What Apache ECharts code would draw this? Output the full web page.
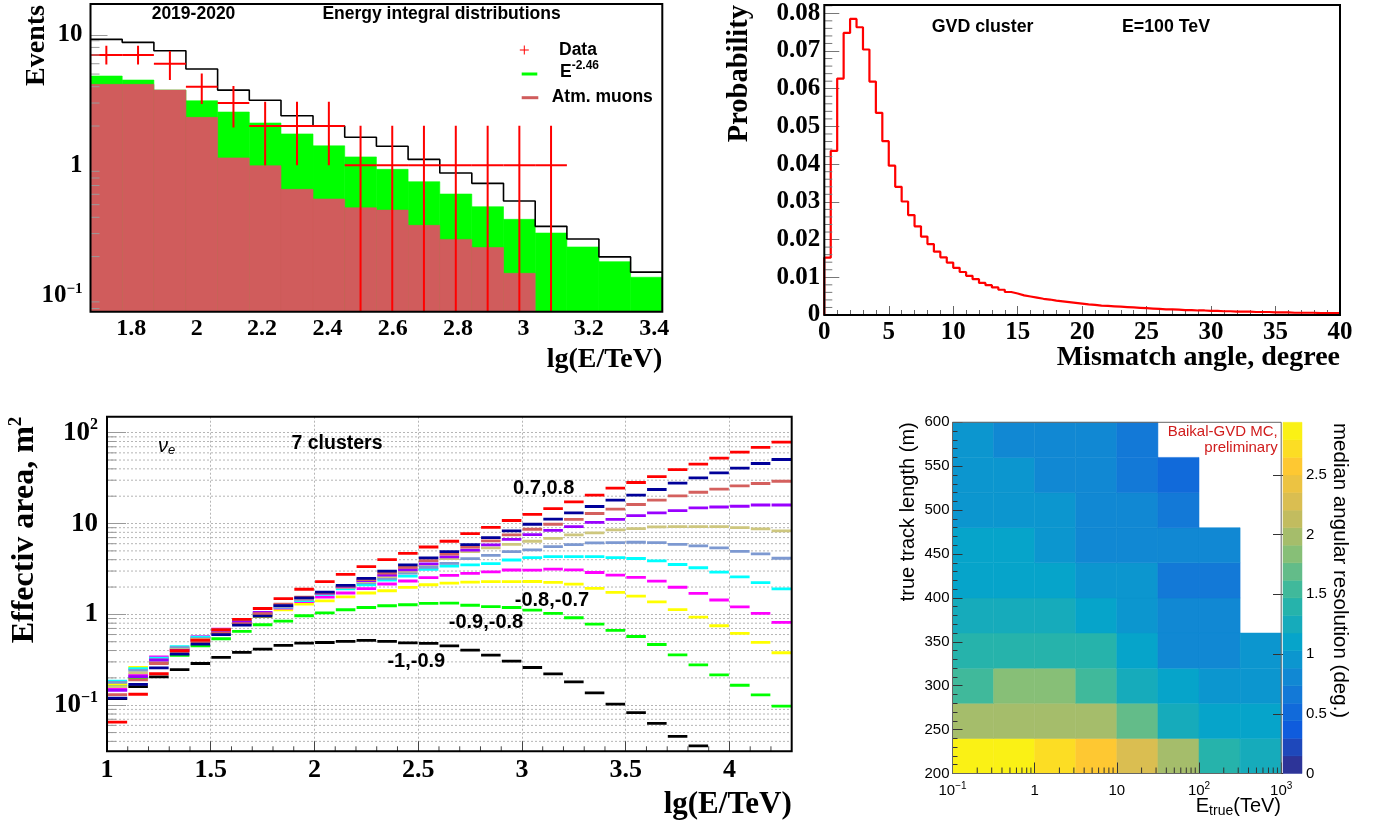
<!DOCTYPE html>
<html><head><meta charset="utf-8">
<script src="https://cdn.jsdelivr.net/npm/echarts@6/dist/echarts.min.js"></script>
<style>html,body{margin:0;padding:0;background:#fff}#c{width:1380px;height:827px}</style>
</head><body><div id="c"></div>
<script>
// ================= DATA =================
// Panel 1: energy integral distributions (log y)
const p1Edges  = [1.675,1.772,1.869,1.967,2.064,2.161,2.258,2.356,2.453,2.550,2.647,2.744,2.842,2.939,3.036,3.133,3.231,3.328,3.425];
const p1Total  = [9.22,8.75,7.54,5.46,3.77,3.15,2.40,2.00,1.64,1.40,1.11,0.873,0.728,0.533,0.341,0.273,0.199,0.152];
const p1Signal = [4.83,4.50,3.77,3.12,2.56,2.11,1.74,1.41,1.16,0.932,0.749,0.603,0.482,0.386,0.303,0.237,0.183,0.139]; // E^-2.46 stacked on muons
const p1Muons  = [4.17,4.17,3.77,2.33,1.14,0.993,0.655,0.552,0.473,0.454,0.347,0.271,0.235,0.149,null,null,null,null];
const p1Data   = [7,7,6,4,3,2,2,2,1,1,1,1,1,1,1];
const p1DataLo = [5.93,5.93,4.5,2.95,1.95,1,1,1,0,0,0,0,0,0,0];
const p1DataHi = [8.24,8.24,7.5,5.06,4.05,3.07,3.07,3.07,2.01,2.01,2.01,2.01,2.01,2.01,2.01];

// Panel 2: mismatch angle distribution, bins of 0.5 degree from 0 to 40
const p2BinWidth = 0.5;
const p2Prob = [0.0152,0.0435,0.0627,0.0748,0.0785,0.0763,0.0704,0.0619,0.0536,0.0461,
 0.0396,0.0340,0.0301,0.0265,0.0235,0.0208,0.0188,0.0168,0.0153,0.0139,
 0.0125,0.0114,0.0104,0.0095,0.0085,0.0079,0.0073,0.0067,0.0061,0.0057,
 0.0052,0.0049,0.0046,0.0043,0.0041,0.0038,0.0036,0.0034,0.0032,0.0030,
 0.0028,0.0027,0.0025,0.0024,0.0023,0.0022,0.0021,0.0020,0.0019,0.0018,
 0.0017,0.0016,0.0015,0.0015,0.0014,0.0013,0.0013,0.0012,0.0012,0.0011,
 0.0011,0.0010,0.0010,0.0009,0.0009,0.0009,0.0008,0.0008,0.0008,0.0007,
 0.0007,0.0007,0.0006,0.0006,0.0006,0.0006,0.0005,0.0005,0.0005,0.0005];

// Panel 3: effective area, bins of 0.1 in lg(E/TeV) from 1.0 to 4.3
const p3Start = 1.0, p3BinWidth = 0.1;
const p3Black   = [0.118,0.16,0.205,0.247,0.288,0.336,0.381,0.414,0.455,0.483,0.49,0.504,0.517,0.504,0.486,0.479,0.451,0.404,0.356,0.306,0.26,0.221,0.181,0.137,0.103,0.083,0.063,0.0455,0.0356,null,null,null,null];
const p3Green   = [0.165,0.20,0.295,0.353,0.451,0.539,0.649,0.769,0.844,0.966,1.04,1.125,1.19,1.245,1.277,1.32,1.33,1.26,1.22,1.19,1.115,1.025,0.918,0.782,0.666,0.571,0.466,0.358,0.278,0.216,0.166,0.13,0.0975];
const p3Yellow  = [0.172,0.26,0.335,0.425,0.55,0.665,0.78,0.945,1.12,1.30,1.41,1.56,1.72,1.82,1.98,2.12,2.21,2.27,2.29,2.29,2.30,2.25,2.15,1.93,1.75,1.59,1.37,1.13,0.934,0.75,0.617,0.491,0.378];
const p3Magenta = [0.150,0.215,0.341,0.415,0.567,0.689,0.84,1.04,1.17,1.38,1.55,1.72,1.92,2.16,2.33,2.54,2.69,2.83,2.93,3.08,3.07,3.15,3.09,2.89,2.70,2.55,2.32,1.99,1.70,1.44,1.21,1.025,0.815];
const p3Cyan    = [0.184,0.252,0.33,0.44,0.56,0.675,0.83,1.01,1.20,1.42,1.66,1.91,2.12,2.39,2.64,3.13,3.41,3.50,3.62,3.97,4.22,4.33,4.33,4.33,4.22,4.12,3.88,3.54,3.26,2.92,2.59,2.24,1.91];
const p3Steel   = [0.178,0.242,0.32,0.43,0.54,0.66,0.81,0.99,1.22,1.45,1.69,1.97,2.23,2.5,2.85,3.30,3.64,4.1,4.47,4.90,5.12,5.57,5.87,6.12,6.17,6.22,6.17,5.91,5.67,5.39,4.95,4.63,4.15];
const p3Tan     = [0.160,0.227,0.305,0.41,0.53,0.65,0.80,1.0,1.24,1.48,1.71,2.0,2.30,2.6,3.0,3.56,4.1,4.9,5.4,5.9,6.38,6.88,7.49,7.88,8.50,8.79,9.17,9.25,9.25,9.25,9.02,8.72,8.29];
const p3Violet  = [0.146,0.206,0.313,0.401,0.515,0.64,0.82,1.05,1.27,1.52,1.72,2.02,2.36,2.7,3.1,3.6,4.3,5.1,5.81,6.71,7.55,8.43,9.25,10.3,11.1,12.2,13.1,13.9,14.9,15.2,15.5,16.0,16.0];
const p3IndRed  = [0.131,0.19,0.288,0.387,0.50,0.625,0.79,1.02,1.30,1.55,1.74,2.05,2.42,2.85,3.3,3.90,4.62,5.52,6.43,7.49,8.65,9.82,11.1,12.9,14.4,16.2,18.1,20.2,22.1,23.9,26.0,27.6,29.2];
const p3Navy    = [0.12,0.17,0.258,0.365,0.47,0.60,0.76,0.955,1.25,1.52,1.76,2.09,2.49,3.0,3.5,4.18,4.90,5.86,7.0,8.29,9.82,11.2,13.1,15.4,18.1,20.5,23.7,27.8,31.8,36.1,40.7,45.8,50.7];
const p3Red     = [0.065,0.132,0.222,0.40,0.52,0.68,0.88,1.16,1.49,1.89,2.29,2.76,3.35,4.0,4.7,5.52,6.38,7.74,9.09,10.8,12.6,14.6,17.3,20.5,24.5,28.3,32.9,39.3,45.0,52.4,61.1,68.8,78.7];
const p3Labels  = ['0.7,0.8','-0.8,-0.7','-0.9,-0.8','-1,-0.9'];

// Panel 4: median angular resolution (deg.)
const hmXEdges = [0.1,0.3162,1,3.162,10,31.62,100,316.2,1000];   // E_true (TeV)
const hmYEdges = [200,240,280,320,360,400,440,480,520,560,600];  // track length (m)
const hmValues = [ // rows from 200 m upward
  [2.90,2.88,2.72,2.60,2.30,1.95,1.45,1.32],
  [2.00,2.00,2.00,2.00,1.70,1.30,1.12,1.12],
  [1.60,1.78,1.78,1.60,1.30,1.12,1.00,1.00],
  [1.42,1.42,1.42,1.42,1.10,0.78,0.78,1.00],
  [1.30,1.30,1.30,1.05,1.00,0.85,0.85,null],
  [1.07,1.07,1.07,1.00,0.92,0.72,0.72,null],
  [1.05,1.05,0.95,0.85,0.78,0.78,0.85,null],
  [0.98,0.98,0.97,0.85,0.75,0.60,null,null],
  [0.98,0.98,0.85,0.75,0.60,0.58,null,null],
  [0.98,0.85,0.85,0.75,0.60,null,null,null]
];
const hmMax = 2.94, hmLevels = 20;

// ================= STYLE / LAYOUT =================
const SERIF = 'Liberation Serif', SANS = 'Liberation Sans';
const G = [
  {left:90.5, top:4,     width:571.8, height:307.7},
  {left:824.3, top:5,    width:515.7, height:310},
  {left:107,  top:416.7, width:684.7, height:334.6},
  {left:952.5, top:422.3, width:328.7, height:351.2},
  {left:1283, top:422.3, width:19,    height:351.2}
];
const P1Y = [0.0757, 17.2], P1X = [1.675, 3.425];
const P2Y = [0, 0.0822], P2X = [0, 40];
const P3Y = [0.0311, 150], P3X = [1, 4.3];

function logMinors(lo, hi) {
  const out = [];
  for (let e = -3; e <= 4; e++) for (let m = 2; m <= 9; m++) {
    const v = m * Math.pow(10, e);
    if (v > lo && v < hi) out.push(+v.toPrecision(3));
  }
  return out;
}
function logLabelFmt(v) {
  const e = Math.round(Math.log10(v));
  if (e === 0) return '{b|1}';
  if (e === 1) return '{b|10}';
  return '{b|10}{s|' + (e < 0 ? '\u2212' : '') + Math.abs(e) + '}';
}
function richLog(fam, w, big, small) {
  return {
    b: {fontFamily: fam, fontWeight: w, fontSize: big, color: '#000', lineHeight: big + 4},
    s: {fontFamily: fam, fontWeight: w, fontSize: small, color: '#000', lineHeight: small, verticalAlign: 'top'}
  };
}

// kBird palette
const birdStops = [0,0.125,0.25,0.375,0.5,0.625,0.75,0.875,1];
const birdR = [0.2082,0.0592,0.0780,0.0232,0.1802,0.5301,0.8186,0.9956,0.9764];
const birdG = [0.1664,0.3599,0.5041,0.6419,0.7178,0.7492,0.7328,0.7862,0.9832];
const birdB = [0.5293,0.8684,0.8385,0.7914,0.6425,0.4662,0.3499,0.1968,0.0539];
function bird(t) {
  let k = 0; while (k < 7 && t > birdStops[k+1]) k++;
  const f = (t - birdStops[k]) / (birdStops[k+1] - birdStops[k]);
  const c = a => Math.round(255 * (a[k] + (a[k+1] - a[k]) * f));
  return 'rgb(' + c(birdR) + ',' + c(birdG) + ',' + c(birdB) + ')';
}
const step = hmMax / hmLevels;
const pieces = [];
for (let i = 0; i < hmLevels; i++) pieces.push({gte: i*step, lt: (i+1)*step + (i === hmLevels-1 ? 1 : 0), color: bird((i+0.5)/hmLevels)});

// ================= SERIES BUILDERS =================
function fillSeries(vals, color) {
  const data = [];
  vals.forEach((v, i) => { if (v != null) data.push([p1Edges[i], p1Edges[i+1], v]); });
  return {type:'custom', xAxisIndex:0, yAxisIndex:0, clip:true, silent:true, encode:{x:[0,1], y:2}, data,
    renderItem: (p, api) => {
      const a = api.coord([api.value(0), api.value(2)]);
      const b = api.coord([api.value(1), P1Y[0]]);
      return {type:'rect', shape:{x:a[0], y:a[1], width:b[0]-a[0], height:b[1]-a[1]}, style:{fill:color, stroke:color, lineWidth:0.6}};
    }};
}
function tickDecor(xi, yi, vals, dir, anchor, len, color, width) {
  return {type:'custom', xAxisIndex:xi, yAxisIndex:yi, silent:true, z:4,
    data: vals.map(v => dir === 'y' ? [anchor, v] : [v, anchor]), encode:{x:0, y:1},
    renderItem: (p, api) => {
      const c = api.coord([api.value(0), api.value(1)]);
      const sh = dir === 'y' ? {x1:c[0], y1:c[1], x2:c[0]+len, y2:c[1]} : {x1:c[0], y1:c[1], x2:c[0], y2:c[1]-len};
      return {type:'line', shape:sh, style:{stroke:color, lineWidth:width}};
    }};
}
function hGridDecor(xi, yi, vals, xr, color) {
  return {type:'custom', xAxisIndex:xi, yAxisIndex:yi, silent:true, z:1,
    data: vals.map(v => [xr[0], v]), encode:{x:0, y:1},
    renderItem: (p, api) => {
      const a = api.coord([xr[0], api.value(1)]), b = api.coord([xr[1], api.value(1)]);
      return {type:'line', shape:{x1:a[0], y1:a[1], x2:b[0], y2:b[1]}, style:{stroke:color, lineWidth:1, lineDash:[2,2]}};
    }};
}
function p3Series(vals, color) {
  const data = [];
  vals.forEach((v, i) => { if (v != null) data.push([p3Start + i*p3BinWidth, p3Start + (i+1)*p3BinWidth, v]); });
  return {type:'custom', xAxisIndex:2, yAxisIndex:2, clip:true, silent:true, z:3, encode:{x:[0,1], y:2}, data,
    renderItem: (p, api) => {
      const a = api.coord([api.value(0), api.value(2)]), b = api.coord([api.value(1), api.value(2)]);
      return {type:'line', shape:{x1:a[0]+0.6, y1:a[1], x2:b[0]-0.6, y2:b[1]}, style:{stroke:color, lineWidth:2.8}};
    }};
}

// Panel 1 black outline (step)
const p1Outline = p1Total.map((v, i) => [p1Edges[i], v]).concat([[p1Edges[p1Edges.length-1], p1Total[p1Total.length-1]]]);
// Panel 1 data crosses
const p1Cross = p1Data.map((v, i) => [p1Edges[i], p1Edges[i+1], v, p1DataLo[i], p1DataHi[i]]);
// Panel 2 step line
const p2Line = [[0, 0]].concat(p2Prob.map((v, i) => [i*p2BinWidth, v]), [[P2X[1], p2Prob[p2Prob.length-1]]]);
// Heatmap cells
const hmData = [];
hmValues.forEach((row, j) => row.forEach((v, i) => { if (v != null) hmData.push([hmXEdges[i], hmXEdges[i+1], hmYEdges[j], hmYEdges[j+1], v]); }));
const cbData = pieces.map(pc => [0, 1, pc.gte, Math.min(pc.gte + step, hmMax), pc.gte + step/2]);

// minor tick values
const p2YMinor = []; for (let k = 1; k <= 41; k++) if (k % 5) p2YMinor.push(+(k*0.002).toFixed(3));
const p3XMinor = []; for (let k = 11; k <= 42; k++) if (k % 5) p3XMinor.push(k/10);

const series = [
  fillSeries(p1Signal, '#00ff00'),
  fillSeries(p1Muons, '#d05c5c'),
  {type:'line', xAxisIndex:0, yAxisIndex:0, data:p1Outline, step:'end', symbol:'none', silent:true,
   lineStyle:{color:'#000', width:1.6}, z:3},
  {type:'custom', xAxisIndex:0, yAxisIndex:0, clip:true, silent:true, z:4, encode:{x:[0,1], y:2}, data:p1Cross,
   renderItem: (p, api) => {
     const x0 = api.value(0), x1 = api.value(1), v = api.value(2);
     const lo = Math.max(api.value(3), P1Y[0]), hi = api.value(4), xc = (x0 + x1)/2;
     const a = api.coord([x0, v]), b = api.coord([x1, v]), c = api.coord([xc, lo]), d = api.coord([xc, hi]);
     return {type:'group', children:[
       {type:'line', shape:{x1:a[0], y1:a[1], x2:b[0], y2:b[1]}, style:{stroke:'#ff0000', lineWidth:2}},
       {type:'line', shape:{x1:c[0], y1:c[1], x2:d[0], y2:d[1]}, style:{stroke:'#ff0000', lineWidth:2}}
     ]};
   }},
  tickDecor(0, 0, logMinors(P1Y[0], P1Y[1]), 'y', P1X[0], 9, '#999', 1),
  // panel 2
  {type:'line', xAxisIndex:1, yAxisIndex:1, data:p2Line, step:'end', symbol:'none', silent:true,
   lineStyle:{color:'#ff0000', width:2.2}, z:3},
  tickDecor(1, 1, p2YMinor, 'y', P2X[0], 8, '#777', 1),
  // panel 3
  hGridDecor(2, 2, logMinors(P3Y[0], P3Y[1]), P3X, '#b5b5b5'),
  tickDecor(2, 2, logMinors(P3Y[0], P3Y[1]), 'y', P3X[0], 9, '#999', 1),
  tickDecor(2, 2, p3XMinor, 'x', P3Y[0], 5, '#444', 1),
  p3Series(p3Black, '#000000'),
  p3Series(p3Green, '#00ff00'),
  p3Series(p3Yellow, '#ffff00'),
  p3Series(p3Magenta, '#ff00ff'),
  p3Series(p3Cyan, '#00ffff'),
  p3Series(p3Steel, '#7d99d1'),
  p3Series(p3Tan, '#cec77e'),
  p3Series(p3Violet, '#9900ff'),
  p3Series(p3IndRed, '#d4605e'),
  p3Series(p3Navy, '#000099'),
  p3Series(p3Red, '#ff0000'),
  // panel 4 heatmap
  {type:'custom', xAxisIndex:3, yAxisIndex:3, silent:true, z:2, encode:{x:[0,1], y:[2,3]}, data:hmData,
   renderItem: (p, api) => {
     const a = api.coord([api.value(0), api.value(3)]), b = api.coord([api.value(1), api.value(2)]);
     const col = api.visual('color');
     return {type:'rect', shape:{x:a[0], y:a[1], width:b[0]-a[0], height:b[1]-a[1]}, style:{fill:col, stroke:col, lineWidth:0.5}};
   }},
  tickDecor(3, 3, logMinors(0.1, 1000), 'x', 200, 6, '#333', 1),
  {type:'custom', xAxisIndex:4, yAxisIndex:4, silent:true, encode:{x:[0,1], y:[2,3]}, data:cbData,
   renderItem: (p, api) => {
     const a = api.coord([api.value(0), api.value(3)]), b = api.coord([api.value(1), api.value(2)]);
     const col = api.visual('color');
     return {type:'rect', shape:{x:a[0], y:a[1], width:b[0]-a[0], height:b[1]-a[1]}, style:{fill:col, stroke:col, lineWidth:0.5}};
   }}
];
const hmSeriesIdx = series.length - 3, cbSeriesIdx = series.length - 1;

// ================= AXES =================
const serifLbl = (size, margin, extra) => Object.assign({fontFamily:SERIF, fontWeight:'bold', fontSize:size, color:'#000', margin}, extra || {});
const xAxis = [
  {gridIndex:0, type:'value', min:P1X[0], max:P1X[1], splitNumber:9, axisLine:{show:false}, axisTick:{show:false}, splitLine:{show:false},
   axisLabel: serifLbl(24, 5, {showMinLabel:false, showMaxLabel:false})},
  {gridIndex:1, type:'value', min:P2X[0], max:P2X[1], interval:5, axisLine:{show:false}, splitLine:{show:false},
   axisTick:{inside:true, length:9, lineStyle:{color:'#666'}}, minorTick:{show:true, splitNumber:5, length:5, lineStyle:{color:'#666'}},
   axisLabel: serifLbl(25, 5)},
  {gridIndex:2, type:'value', min:P3X[0], max:P3X[1], interval:0.5, axisLine:{show:false},
   splitLine:{show:true, lineStyle:{color:'#b5b5b5', type:[2,2]}},
   axisTick:{inside:true, length:10, lineStyle:{color:'#444'}},
   axisLabel: serifLbl(26, 6, {showMaxLabel:false})},
  {gridIndex:3, type:'log', logBase:10, min:0.1, max:1000, splitNumber:4, z:5, axisLine:{show:false}, splitLine:{show:false},
   axisTick:{inside:true, length:11, lineStyle:{color:'#333'}},
   axisLabel:{formatter:logLabelFmt, rich:richLog(SANS, 'normal', 15, 10), margin:8}},
  {gridIndex:4, type:'value', min:0, max:1, show:false}
];
const yAxis = [
  {gridIndex:0, type:'log', logBase:10, min:P1Y[0], max:P1Y[1], splitNumber:2, axisLine:{show:false}, splitLine:{show:false},
   axisTick:{inside:true, length:17, lineStyle:{color:'#999'}},
   axisLabel:{formatter:logLabelFmt, rich:richLog(SERIF, 'bold', 25, 15), margin:8, showMinLabel:false, showMaxLabel:false}},
  {gridIndex:1, type:'value', min:P2Y[0], max:P2Y[1], interval:0.01, axisLine:{show:false}, splitLine:{show:false},
   axisTick:{inside:true, length:15, lineStyle:{color:'#777'}},
   axisLabel: serifLbl(25, 4, {showMaxLabel:false, formatter: v => v === 0 ? '0' : v.toFixed(2)})},
  {gridIndex:2, type:'log', logBase:10, min:P3Y[0], max:P3Y[1], splitNumber:4, axisLine:{show:false},
   splitLine:{show:true, lineStyle:{color:'#b5b5b5', type:[2,2]}},
   axisTick:{inside:true, length:19, lineStyle:{color:'#999'}},
   axisLabel:{formatter:logLabelFmt, rich:richLog(SERIF, 'bold', 27, 16), margin:9, showMinLabel:false, showMaxLabel:false}},
  {gridIndex:3, type:'value', min:200, max:600, interval:50, z:5, axisLine:{show:false}, splitLine:{show:false},
   axisTick:{inside:true, length:10, lineStyle:{color:'#333'}}, minorTick:{show:true, splitNumber:5, length:5, lineStyle:{color:'#333'}},
   axisLabel:{fontFamily:SANS, fontSize:15, color:'#000', margin:3}},
  {gridIndex:4, type:'value', min:0, max:hmMax, interval:0.5, position:'right', z:5, axisLine:{show:false}, splitLine:{show:false},
   axisTick:{inside:true, length:10, lineStyle:{color:'#333'}},
   axisLabel:{fontFamily:SANS, fontSize:15, color:'#000', margin:4, showMaxLabel:false}}
];

// ================= TEXT / FRAMES =================
function T(x, y, text, o) {
  return {type:'text', x, y, z:60, rotation:o.rot || 0, silent:true,
    style:{text, fontFamily:o.fam || SANS, fontWeight:o.w || 'normal', fontStyle:o.st || 'normal', fontSize:o.fs,
      fill:o.col || '#000', align:o.al || 'left', verticalAlign:'middle', rich:o.rich}};
}
function L(x1, y1, x2, y2, col, w) {
  return {type:'line', z:60, silent:true, shape:{x1, y1, x2, y2}, style:{stroke:col, lineWidth:w}};
}
function frame(g, col, w) {
  return {type:'rect', z:55, silent:true, shape:{x:g.left, y:g.top, width:g.width, height:g.height}, style:{fill:null, stroke:col, lineWidth:w}};
}
const graphic = [
  frame(G[0], '#000', 2), frame(G[1], '#000', 2), frame(G[2], '#000', 2), frame(G[3], '#666', 1),
  // panel 1
  T(193.5, 14, '2019-2020', {w:'bold', fs:17.5, al:'center'}),
  T(441.5, 14, 'Energy integral distributions', {w:'bold', fs:17.5, al:'center'}),
  L(519.8, 50, 528.8, 50, '#ff0000', 1), L(524.3, 45.5, 524.3, 54.5, '#ff0000', 1),
  T(559, 50, 'Data', {w:'bold', fs:17.5}),
  L(521.7, 74, 537.3, 74, '#00ff00', 3),
  T(560, 72, '{b|E}{s|-2.46}', {fs:17.5, rich:{b:{fontFamily:SANS, fontWeight:'bold', fontSize:17.5, lineHeight:24}, s:{fontFamily:SANS, fontWeight:'bold', fontSize:12, lineHeight:12, verticalAlign:'top'}}}),
  L(521.7, 97.7, 538.3, 97.7, '#d05c5c', 3),
  T(551.7, 96.7, 'Atm. muons', {w:'bold', fs:17.5}),
  T(37, 5, 'Events', {fam:SERIF, w:'bold', fs:28, al:'right', rot:Math.PI/2}),
  T(662.3, 360, 'lg(E/TeV)', {fam:SERIF, w:'bold', fs:28, al:'right'}),
  // panel 2
  T(982.6, 27.3, 'GVD cluster', {w:'bold', fs:17.8, al:'center'}),
  T(1166, 27.3, 'E=100 TeV', {w:'bold', fs:17.8, al:'center'}),
  T(740, 5, 'Probability', {fam:SERIF, w:'bold', fs:28.5, al:'right', rot:Math.PI/2}),
  T(1340, 358, 'Mismatch angle, degree', {fam:SERIF, w:'bold', fs:28, al:'right'}),
  // panel 3
  T(25, 416.7, '{b|Effectiv area, m}{s|2}', {fs:32, al:'right', rot:Math.PI/2,
    rich:{b:{fontFamily:SERIF, fontWeight:'bold', fontSize:32, lineHeight:36}, s:{fontFamily:SERIF, fontWeight:'bold', fontSize:19, lineHeight:19, verticalAlign:'top'}}}),
  T(791.7, 805, 'lg(E/TeV)', {fam:SERIF, w:'bold', fs:31, al:'right'}),
  T(337, 443.3, '7 clusters', {w:'bold', fs:19.5, al:'center'}),
  T(158, 446, '{n|\u03bd}{s|e}', {fs:20, rich:{n:{fontFamily:SANS, fontStyle:'italic', fontSize:20, lineHeight:22}, s:{fontFamily:SANS, fontStyle:'italic', fontSize:13, lineHeight:13, verticalAlign:'bottom'}}}),
  T(543.7, 488.3, p3Labels[0], {w:'bold', fs:20, al:'center'}),
  T(552, 600.7, p3Labels[1], {w:'bold', fs:20, al:'center'}),
  T(486, 622.3, p3Labels[2], {w:'bold', fs:20, al:'center'}),
  T(416.3, 661.7, p3Labels[3], {w:'bold', fs:20, al:'center'}),
  // panel 4
  T(1277.7, 431.7, 'Baikal-GVD MC,', {fs:15, al:'right', col:'#d01c1c'}),
  T(1277.7, 448.3, 'preliminary', {fs:15, al:'right', col:'#d01c1c'}),
  T(908.3, 422.3, 'true track length (m)', {fs:20, al:'right', rot:Math.PI/2}),
  T(1281, 806, '{b|E}{u|true}{b|(TeV)}', {fs:20, al:'right', rich:{b:{fontFamily:SANS, fontSize:20, lineHeight:24}, u:{fontFamily:SANS, fontSize:14, lineHeight:14, verticalAlign:'bottom'}}}),
  T(1340, 423, 'median angular resolution (deg.)', {fs:20.5, al:'left', rot:-Math.PI/2})
];

const option = {
  animation:false,
  backgroundColor:'#fff',
  grid: G.map(g => Object.assign({containLabel:false, show:false}, g)),
  xAxis, yAxis, series, graphic,
  visualMap:{type:'piecewise', show:false, dimension:4, seriesIndex:[hmSeriesIdx, cbSeriesIdx], pieces}
};
const chart = echarts.init(document.getElementById('c'), null, {renderer:'canvas', width:1380, height:827});
chart.setOption(option);
</script>
</body></html>
